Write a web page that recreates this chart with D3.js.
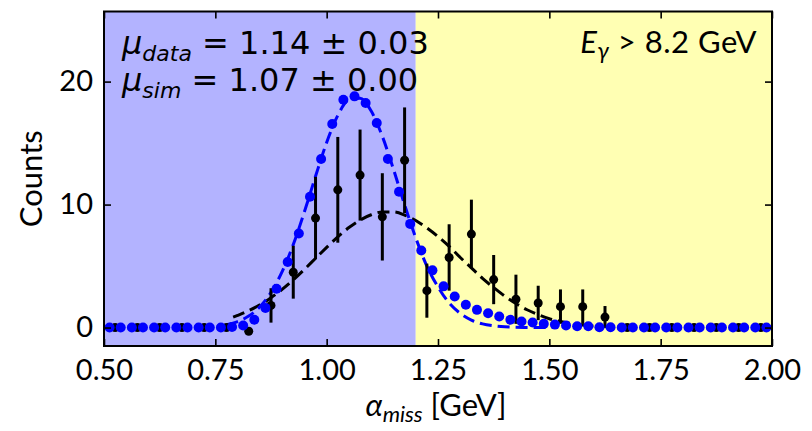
<!DOCTYPE html>
<html>
<head>
<meta charset="utf-8">
<script src="https://cdn.jsdelivr.net/npm/d3@7"></script>
<style>
  body { margin: 0; background: #fff; }
  text { font-family: Lato, sans-serif; }
  .math { font-family: "DejaVu Sans", sans-serif; }
</style>
</head>
<body>
<svg id="chart" width="812" height="431"></svg>
<script>
// simulation counts, bins of 0.025 starting at 0.50
var simStart = 0.50, simWidth = 0.025;
var simCounts = [0, 0, 0, 0, 0, 0, 0, 0, 0, 0, 0, 0.05, 0.17, 0.63, 1.6, 3.16, 5.33, 7.65, 10.64, 13.7,
  16.55, 18.53, 18.8, 18.26, 16.63, 13.71, 11.04, 8.43, 6.26, 4.65, 3.35, 2.53, 1.85, 1.44, 1.17, 0.9,
  0.63, 0.49, 0.41, 0.3, 0.24, 0.16, 0.1, 0.1, 0.03, 0.02, 0, 0, 0, 0, 0, 0, 0, 0, 0, 0, 0, 0, 0, 0];

// data counts, bins of 0.05 starting at 0.50
var dataStart = 0.50, dataWidth = 0.05;
var dataCounts = [0, 0, 0, 0, 0, 0, -0.3, 1.8, 4.5, 8.9, 11.2, 12.4, 9.0, 13.6, 3.0, 5.7, 7.6, 3.9,
  2.3, 2.0, 1.7, 1.7, 0.85, 0, 0, 0, 0, 0, 0, 0];
var dataErrors = [0, 0, 0, 0, 0, 0, 0, 1.4, 2.15, 3.35, 4.3, 3.7, 3.55, 4.3, 2.2, 2.7, 2.8, 2.0,
  2.0, 1.4, 1.4, 1.4, 0.9, 0, 0, 0, 0, 0, 0, 0];

// fitted curves
var fitDataX = [0.79, 0.8, 0.825, 0.85, 0.875, 0.9, 0.925, 0.95, 0.975, 1.0, 1.025, 1.05, 1.075, 1.1,
  1.125, 1.15, 1.175, 1.2, 1.225, 1.25, 1.275, 1.3, 1.325, 1.35, 1.375, 1.4, 1.425, 1.45, 1.475, 1.5,
  1.525, 1.55, 1.575, 1.6];
var fitDataY = [0.85, 0.99, 1.37, 1.85, 2.43, 3.11, 3.88, 4.73, 5.63, 6.52, 7.38, 8.13, 8.74, 9.17,
  9.4, 9.4, 9.15, 8.7, 8.1, 7.4, 6.6, 5.7, 4.85, 4.0, 3.25, 2.55, 1.95, 1.45, 1.05, 0.72, 0.5, 0.32, 0.2, 0.12];
var fitSimX = [0.775, 0.8, 0.825, 0.85, 0.875, 0.9, 0.925, 0.95, 0.975, 1.0, 1.025, 1.05, 1.075, 1.1,
  1.125, 1.15, 1.175, 1.2, 1.225, 1.25, 1.275, 1.3, 1.325, 1.35, 1.375, 1.4, 1.45, 1.5];
var fitSimY = [0.23, 0.48, 0.93, 1.69, 2.86, 4.54, 6.75, 9.41, 12.3, 15.05, 17.25, 18.53, 18.65, 17.6,
  15.55, 12.87, 9.98, 7.3, 5.0, 3.3, 2.0, 1.15, 0.6, 0.3, 0.14, 0.06, 0.01, 0];

var xTicks = [0.50, 0.75, 1.00, 1.25, 1.50, 1.75, 2.00];
var yTicks = [0, 10, 20];
var cut = 1.2;

window.onload = function() {
  makeChart();
};

function makeChart() {
  var left = 104, right = 772, top = 11.5, bottom = 346;

  var svg = d3.select("#chart");

  var x = d3.scaleLinear().domain([0.5, 2.0]).range([left, right]);
  var y = d3.scaleLinear().domain([-1.5, 25.7]).range([bottom, top]);

  // shaded regions
  svg.append("rect")
    .attr("x", x(0.5)).attr("y", top)
    .attr("width", x(cut) - x(0.5)).attr("height", bottom - top)
    .attr("fill", "#b3b3ff");
  svg.append("rect")
    .attr("x", x(cut)).attr("y", top)
    .attr("width", x(2.0) - x(cut)).attr("height", bottom - top)
    .attr("fill", "#ffffb3");

  var line = d3.line()
    .x(function(d) { return x(d[0]); })
    .y(function(d) { return y(d[1]); })
    .curve(d3.curveMonotoneX);

  svg.append("path")
    .datum(d3.zip(fitDataX, fitDataY))
    .attr("d", line)
    .attr("fill", "none")
    .attr("stroke", "#000")
    .attr("stroke-width", 3)
    .attr("stroke-dasharray", "12,6");

  svg.append("path")
    .datum(d3.zip(fitSimX, fitSimY))
    .attr("d", line)
    .attr("fill", "none")
    .attr("stroke", "#0000ff")
    .attr("stroke-width", 3)
    .attr("stroke-dasharray", "12,6");

  // data points with error bars
  var pts = svg.append("g");
  var dp = pts.selectAll("g")
    .data(dataCounts)
    .enter().append("g");

  dp.append("line")
    .attr("x1", function(d, i) { return x(dataStart + (i + 0.5) * dataWidth); })
    .attr("x2", function(d, i) { return x(dataStart + (i + 0.5) * dataWidth); })
    .attr("y1", function(d, i) { return y(d - dataErrors[i]); })
    .attr("y2", function(d, i) { return y(d + dataErrors[i]); })
    .attr("stroke", "#000")
    .attr("stroke-width", 3);

  dp.append("circle")
    .attr("cx", function(d, i) { return x(dataStart + (i + 0.5) * dataWidth); })
    .attr("cy", function(d) { return y(d); })
    .attr("r", 4.5)
    .attr("fill", "#000");

  // simulation points
  svg.append("g").selectAll("circle")
    .data(simCounts)
    .enter().append("circle")
    .attr("cx", function(d, i) { return x(simStart + (i + 0.5) * simWidth); })
    .attr("cy", function(d) { return y(d); })
    .attr("r", 5)
    .attr("fill", "#0000ff");

  // axes, ticks inward on all sides
  var tickLen = 7;
  var xb = d3.axisBottom(x).tickValues(xTicks).tickSizeInner(-tickLen).tickSizeOuter(0)
    .tickPadding(13).tickFormat(d3.format(".2f"));
  var xt = d3.axisTop(x).tickValues(xTicks).tickSizeInner(-tickLen).tickSizeOuter(0).tickFormat("");
  var yl = d3.axisLeft(y).tickValues(yTicks).tickSizeInner(-tickLen).tickSizeOuter(0).tickPadding(11);
  var yr = d3.axisRight(y).tickValues(yTicks).tickSizeInner(-tickLen).tickSizeOuter(0).tickFormat("");

  var gx = svg.append("g").attr("transform", "translate(0," + bottom + ")").call(xb);
  svg.append("g").attr("transform", "translate(0," + top + ")").call(xt);
  var gy = svg.append("g").attr("transform", "translate(" + left + ",0)").call(yl);
  svg.append("g").attr("transform", "translate(" + right + ",0)").call(yr);

  svg.selectAll(".domain").remove();
  svg.selectAll(".tick line").attr("stroke", "#000").attr("stroke-width", 1.6);
  gx.selectAll("text").attr("font-size", 29).attr("font-family", "Lato, sans-serif").attr("fill", "#000");
  gy.selectAll("text").attr("font-size", 29).attr("font-family", "Lato, sans-serif").attr("fill", "#000");

  // frame
  svg.append("rect")
    .attr("x", left).attr("y", top)
    .attr("width", right - left).attr("height", bottom - top)
    .attr("fill", "none").attr("stroke", "#000").attr("stroke-width", 2);

  // axis labels
  var xl = svg.append("text")
    .attr("x", (left + right) / 2 - 2).attr("y", 416)
    .attr("text-anchor", "middle")
    .attr("font-size", 31);
  xl.append("tspan").attr("font-style", "italic").text("\u03b1");
  xl.append("tspan").attr("font-style", "italic").attr("font-size", 22).attr("dy", 6).text("miss");
  xl.append("tspan").attr("dy", -6).text(" [GeV]");

  svg.append("text")
    .attr("transform", "translate(42," + ((top + bottom) / 2) + ") rotate(-90)")
    .attr("text-anchor", "middle")
    .attr("font-size", 31)
    .text("Counts");

  // annotations
  function muLabel(yPos, sub, value) {
    var t = svg.append("text").attr("class", "math")
      .attr("x", 122).attr("y", yPos).attr("font-size", 32);
    t.append("tspan").attr("font-style", "italic").text("\u03bc");
    t.append("tspan").attr("font-style", "italic").attr("font-size", 22).attr("dy", 7).text(sub);
    t.append("tspan").attr("dy", -7).text(" = " + value);
  }
  muLabel(54, "data", "1.14 \u00b1 0.03");
  muLabel(91, "sim", "1.07 \u00b1 0.00");

  var e = svg.append("text")
    .attr("x", 757).attr("y", 53)
    .attr("text-anchor", "end")
    .attr("font-size", 31)
    .attr("letter-spacing", 0.5);
  e.append("tspan").attr("font-style", "italic").text("E");
  e.append("tspan").attr("font-style", "italic").attr("font-size", 23).attr("dy", 6).text("\u03b3");
  e.append("tspan").attr("dy", -6).text(" > 8.2 GeV");
}
</script>
</body>
</html>
